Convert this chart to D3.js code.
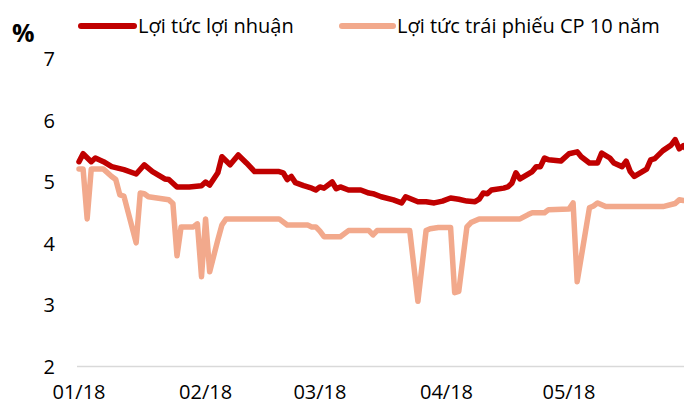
<!DOCTYPE html>
<html>
<head>
<meta charset="utf-8">
<script src="https://cdn.jsdelivr.net/npm/d3@7"></script>
<style>
  html, body { margin: 0; padding: 0; background: #fff; }
  svg { display: block; }
  text { font-family: "Open Sans", sans-serif; fill: #000; }
</style>
</head>
<body>
<svg id="chart" width="684" height="405"></svg>
<script>
// ---- Data (day offset from 2018-01-01, value %) ----
const seriesNames = ["Lợi tức lợi nhuận", "Lợi tức trái phiếu CP 10 năm"];
const yTicks = [2, 3, 4, 5, 6, 7];
const xTickLabels = ["01/18", "02/18", "03/18", "04/18", "05/18"];
const xTickDates = ["2018-01-01", "2018-02-01", "2018-03-01", "2018-04-01", "2018-05-01"];

const earningsDays = [0,1,3,4,6,8,11,14,16,18,21,22,24,27,30,31,32,34,35,37,39,41,43,49,50,51,52,53,55,57,58,59,60,62,63,64,66,69,71,72,74,77,79,80,83,85,87,89,91,93,95,97,98,99,100,101,104,105,106,107,108,111,112,113,114,115,118,120,122,123,125,127,128,130,131,133,134,135,136,139,140,141,143,145,146,147,148,149];
const earningsVals = [5.33,5.46,5.33,5.39,5.33,5.25,5.20,5.13,5.28,5.17,5.05,5.04,4.92,4.92,4.94,5.00,4.95,5.15,5.41,5.28,5.44,5.31,5.17,5.17,5.15,5.04,5.09,4.99,4.94,4.90,4.87,4.92,4.90,5.00,4.89,4.92,4.87,4.87,4.82,4.81,4.76,4.71,4.66,4.76,4.68,4.68,4.66,4.69,4.74,4.72,4.69,4.68,4.72,4.82,4.81,4.87,4.90,4.92,4.98,5.15,5.05,5.17,5.25,5.25,5.39,5.36,5.34,5.46,5.49,5.41,5.31,5.31,5.47,5.39,5.31,5.25,5.34,5.17,5.09,5.21,5.36,5.38,5.51,5.60,5.69,5.54,5.59,5.52];

const bondDays = [0,1,2,3,6,8,9,10,11,14,15,16,17,22,23,24,25,28,29,30,31,32,34,35,36,49,51,56,57,58,59,60,64,66,71,72,73,81,83,85,86,88,91,92,93,95,96,98,108,110,111,114,115,120,121,122,125,126,127,129,143,146,147,148,149];
const bondVals = [5.21,5.21,4.40,5.21,5.21,5.09,5.04,4.79,4.77,4.01,4.82,4.81,4.76,4.71,4.65,3.80,4.27,4.27,4.32,3.46,4.40,3.54,4.06,4.30,4.40,4.40,4.30,4.30,4.27,4.27,4.20,4.11,4.11,4.21,4.21,4.14,4.21,4.21,3.06,4.21,4.24,4.26,4.26,3.20,3.22,4.27,4.34,4.40,4.40,4.47,4.50,4.50,4.55,4.56,4.66,3.38,4.58,4.61,4.66,4.60,4.60,4.65,4.71,4.70,4.70];

const colors = ["#C00000", "#F2A98C"];

// ---- Build ----
const dayToDate = d => new Date(2018, 0, 1 + d);
const earnings = earningsDays.map((d, i) => ({ date: dayToDate(d), v: earningsVals[i] }));
const bond = bondDays.map((d, i) => ({ date: dayToDate(d), v: bondVals[i] }));

const svg = d3.select("#chart");
const x = d3.scaleTime().domain([new Date(2018, 0, 1), new Date(2018, 4, 1)]).range([79, 569]);
const y = d3.scaleLinear().domain([2, 7]).range([366.5, 59]);

svg.append("defs").append("clipPath").attr("id", "clip")
  .append("rect").attr("x", 0).attr("y", 0).attr("width", 684).attr("height", 405);

// baseline
svg.append("line").attr("x1", 77).attr("x2", 684)
  .attr("y1", y(2)).attr("y2", y(2))
  .attr("stroke", "#d9d9d9").attr("stroke-width", 1.5);

// y axis labels
svg.selectAll(".ytick").data(yTicks).enter().append("text")
  .attr("class", "ytick")
  .attr("x", 55).attr("y", d => y(d))
  .attr("dy", "0.36em")
  .attr("text-anchor", "end")
  .attr("font-size", 20)
  .text(d => d);

// x axis labels
svg.selectAll(".xtick").data(xTickLabels).enter().append("text")
  .attr("class", "xtick")
  .attr("x", (d, i) => x(new Date(xTickDates[i] + "T00:00:00")))
  .attr("y", 399)
  .attr("text-anchor", "middle")
  .attr("font-size", 20)
  .text(d => d);

// % label
svg.append("text").attr("x", 12).attr("y", 42)
  .attr("font-size", 25).attr("font-weight", "bold")
  .attr("font-family", "'Liberation Sans', Arial, sans-serif")
  .text("%");

const line = d3.line().x(d => x(d.date)).y(d => y(d.v));
const g = svg.append("g").attr("clip-path", "url(#clip)");
g.append("path").datum(bond).attr("d", line)
  .attr("fill", "none").attr("stroke", colors[1]).attr("stroke-width", 5.5)
  .attr("stroke-linejoin", "round").attr("stroke-linecap", "round");
g.append("path").datum(earnings).attr("d", line)
  .attr("fill", "none").attr("stroke", colors[0]).attr("stroke-width", 5.5)
  .attr("stroke-linejoin", "round").attr("stroke-linecap", "round");

// legend
const legendPos = [{ x1: 81, x2: 134, tx: 138 }, { x1: 342, x2: 393, tx: 397 }];
seriesNames.forEach((name, i) => {
  svg.append("line").attr("x1", legendPos[i].x1).attr("x2", legendPos[i].x2)
    .attr("y1", 26).attr("y2", 26)
    .attr("stroke", colors[i]).attr("stroke-width", 6).attr("stroke-linecap", "round");
  svg.append("text").attr("x", legendPos[i].tx).attr("y", 33)
    .attr("font-size", 20).text(name);
});
</script>
</body>
</html>
